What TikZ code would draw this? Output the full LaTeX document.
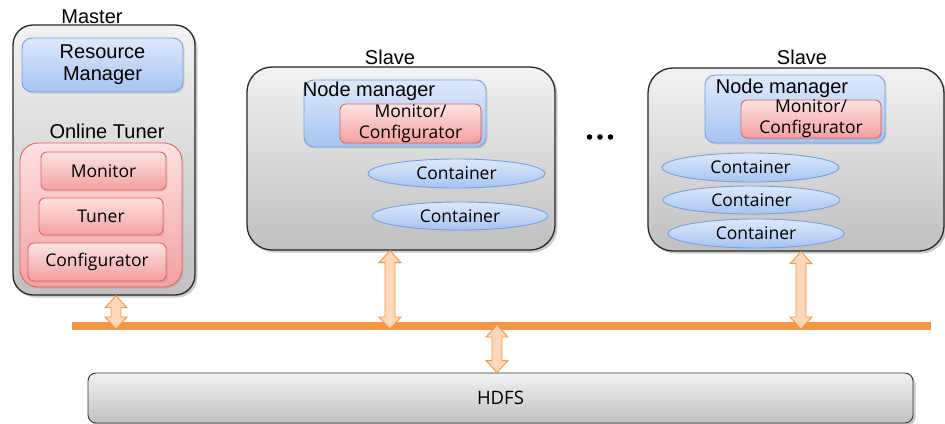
\documentclass[tikz,border=0pt]{standalone}
\usepackage{fontspec}
\setmainfont{Liberation Sans}
\newfontfamily\osans{Open Sans}
\usetikzlibrary{shapes.geometric,shadows,calc}
\definecolor{grayT}{HTML}{F2F2F2}
\definecolor{grayB}{HTML}{C0C0C0}
\definecolor{blueT}{HTML}{DDE9FB}
\definecolor{blueB}{HTML}{A6C4F1}
\definecolor{blueE}{HTML}{779FE0}
\definecolor{redT}{HTML}{FDE2E2}
\definecolor{redB}{HTML}{F4A0A0}
\definecolor{redE}{HTML}{E06464}
\definecolor{busC}{HTML}{F79646}
\definecolor{arrF}{HTML}{FCD7B8}
\tikzset{
  lbl/.style={font=\fontsize{20}{22}\selectfont, inner sep=0pt},
  small/.style={font=\osans\fontsize{17.5}{21}\selectfont},
  graybox/.style={draw=black!85, line width=1.3pt, top color=grayT, bottom color=grayB,
     inner sep=0pt, drop shadow={opacity=0.4, shadow xshift=2.5pt, shadow yshift=-2.5pt}},
  bluebox/.style={draw=blueE, line width=0.9pt, top color=blueT, bottom color=blueB,
     inner sep=0pt, rounded corners=10pt, drop shadow={opacity=0.2, shadow xshift=1.5pt, shadow yshift=-1.5pt}},
  redbox/.style={draw=redE, line width=0.9pt, top color=redT, bottom color=redB,
     inner sep=0pt, rounded corners=6pt, small, align=center,
     drop shadow={opacity=0.2, shadow xshift=1.5pt, shadow yshift=-1.5pt}},
  cont/.style={ellipse, draw=blueE, line width=0.9pt, top color=blueT, bottom color=blueB,
     inner sep=0pt, minimum width=177pt, minimum height=29pt, small},
  barrow/.style={draw=busC, line width=0.9pt, fill=arrF, line join=miter},
}
\newcommand\bigarrow[2]{%
  \draw[barrow] let \p1=(#1), \p2=(#2) in
   (\x1,\y1) -- (\x1+11pt,\y1-12pt) -- (\x1+5pt,\y1-12pt) -- (\x2+5pt,\y2+12pt)
   -- (\x2+11pt,\y2+12pt) -- (\x2,\y2) -- (\x2-11pt,\y2+12pt) -- (\x2-5pt,\y2+12pt)
   -- (\x1-5pt,\y1-12pt) -- (\x1-11pt,\y1-12pt) -- cycle;}
\begin{document}
\begin{tikzpicture}[x=1pt,y=-1pt]
\useasboundingbox (0,0) rectangle (945,423);
% Master
\node[lbl] (masterl) at (92,17) {Master};
\node[graybox, rounded corners=20pt, minimum width=182pt, minimum height=270pt] (master) at (104,160) {};
\node[bluebox, minimum width=161pt, minimum height=54pt, lbl, align=center] (rm) at (102.5,65) {Resource\\Manager};
\node[lbl] (otl) at (107,131) {Online Tuner};
\node[redbox, rounded corners=18pt, minimum width=162pt, minimum height=144pt] (ot) at (101,215) {};
\node[redbox, minimum width=125pt, minimum height=38pt] (mon) at (103.5,171) {Monitor};
\node[redbox, minimum width=124pt, minimum height=37pt] (tun) at (101,216.5) {Tuner};
\node[redbox, minimum width=138pt, minimum height=38pt] (conf) at (97,262) {Configurator};
% Slave 1
\node[lbl] (s1l) at (390,57) {Slave};
\node[graybox, rounded corners=25pt, minimum width=308pt, minimum height=183pt] (s1) at (401,158.5) {};
\node[bluebox, minimum width=182pt, minimum height=67pt] (nm1) at (395,113.5) {};
\node[lbl] (nm1l) at (369,91) {Node manager};
\node[redbox, minimum width=141pt, minimum height=39pt] (mc1) at (410.5,123.5) {Monitor/\\Configurator};
\node[cont] (c11) at (456.5,173.5) {Container};
\node[cont, minimum width=176pt, minimum height=28pt] (c12) at (460,216) {Container};
% dots
\fill (589.5,137) circle (2.8pt) (600,137) circle (2.8pt) (610.5,137) circle (2.8pt);
% Slave 2
\node[lbl] (s2l) at (802,57) {Slave};
\node[graybox, rounded corners=25pt, minimum width=296pt, minimum height=183pt] (s2) at (796,159.5) {};
\node[bluebox, minimum width=180pt, minimum height=68pt] (nm2) at (795,109) {};
\node[lbl] (nm2l) at (782,88) {Node manager};
\node[redbox, minimum width=140pt, minimum height=38pt] (mc2) at (811,119) {Monitor/\\Configurator};
\node[cont] (c21) at (750.5,167.5) {Container};
\node[cont, minimum height=28pt] (c22) at (751.5,200) {Container};
\node[cont, minimum width=176pt] (c23) at (756,233.5) {Container};
% bus
\coordinate (busL) at (72,326);
\coordinate (busR) at (931,326);
\draw[busC, line width=8pt] (busL) -- (busR);
% HDFS
\node[graybox, draw=black!80, line width=0.9pt, rounded corners=8pt, minimum width=825pt, minimum height=50pt,
      font=\osans\fontsize{18.5}{22}\selectfont, drop shadow={opacity=0}] (hdfs) at (500.5,398) {HDFS};
% arrows
\coordinate (bm) at (116,329);
\coordinate (b1) at (390,329);
\coordinate (b2) at (801,329);
\coordinate (b3) at (497,325);
\bigarrow{master.south -| bm}{bm}
\bigarrow{s1.south -| b1}{b1}
\bigarrow{s2.south -| b2}{b2}
\bigarrow{b3}{b3 |- hdfs.north}
\end{tikzpicture}
\end{document}
